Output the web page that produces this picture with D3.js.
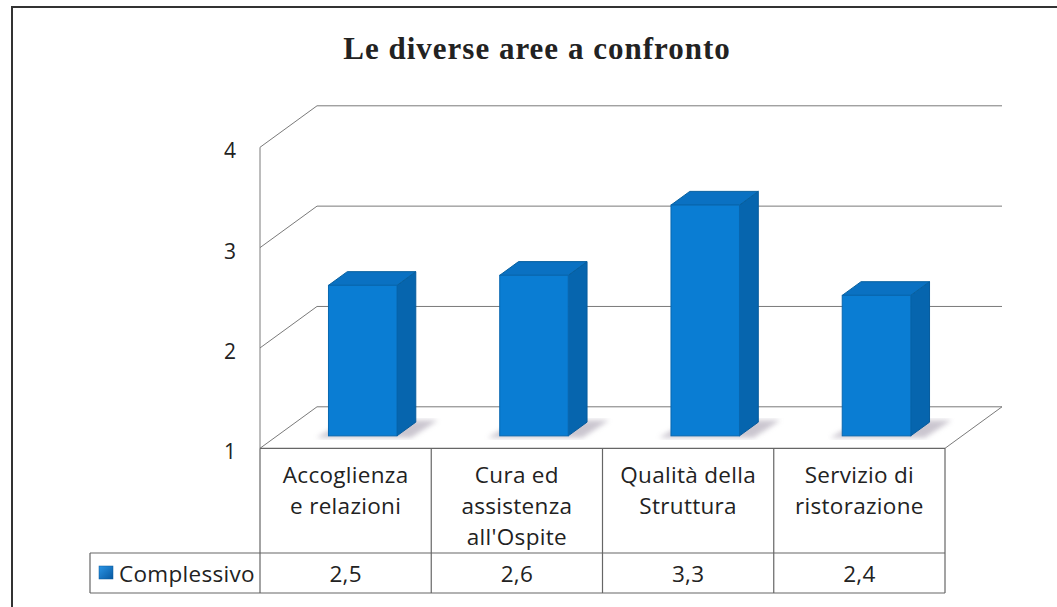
<!DOCTYPE html>
<html>
<head>
<meta charset="utf-8">
<script src="https://cdn.jsdelivr.net/npm/d3@7"></script>
<style>
  body { margin: 0; background: #fff; }
</style>
</head>
<body>
<script>
const categories = [
  ["Accoglienza", "e relazioni"],
  ["Cura ed", "assistenza", "all'Ospite"],
  ["Qualità della", "Struttura"],
  ["Servizio di", "ristorazione"]
];
const values = [2.5, 2.6, 3.3, 2.4];
const valueLabels = ["2,5", "2,6", "3,3", "2,4"];
const yTicks = [1, 2, 3, 4];
const seriesName = "Complessivo";
const title = "Le diverse aree a confronto";

const width = 1057, height = 607;
const font = "'Open Sans', sans-serif";

// 3D depth offset of the back wall
const depthX = 57, depthY = 41.5;
const f0 = 0.3, f1 = 0.63; // bar front/back depth fraction

const svg = d3.select("body").append("svg")
    .attr("width", width)
    .attr("height", height)
    .attr("font-family", font);

const defs = svg.append("defs");
defs.append("filter").attr("id", "blur")
  .append("feGaussianBlur").attr("stdDeviation", 2.5);
const lg = defs.append("linearGradient").attr("id", "leg")
    .attr("x1", 0).attr("y1", 0).attr("x2", 1).attr("y2", 1);
lg.append("stop").attr("offset", 0).attr("stop-color", "#2a95e6");
lg.append("stop").attr("offset", 1).attr("stop-color", "#0758a0");

// outer frame
svg.append("path")
    .attr("d", `M12,${height}V7H${width}`)
    .attr("fill", "none")
    .attr("stroke", "#333")
    .attr("stroke-width", 2);

svg.append("text")
    .attr("x", 537)
    .attr("y", 59)
    .attr("text-anchor", "middle")
    .attr("font-family", "'Liberation Serif', serif")
    .attr("font-weight", "bold")
    .attr("font-size", 31)
    .attr("letter-spacing", 1)
    .attr("fill", "#222")
    .text(title);

const x = d3.scaleBand(d3.range(categories.length), [260, 945]);
const y = d3.scaleLinear([1, 4], [448.3, 147.3]);

const off = f => [f * depthX, -f * depthY];

const grid = svg.append("g")
    .attr("stroke", "#7a7a7a")
    .attr("stroke-width", 1)
    .attr("fill", "none");

// back wall lines and side wall diagonals
yTicks.forEach(t => {
  grid.append("path")
      .attr("d", `M${x.range()[0]},${y(t)}L${x.range()[0] + depthX},${y(t) - depthY}H${x.range()[1] + depthX}`);
});
// left axis front edge
grid.append("line")
    .attr("x1", 260).attr("x2", 260)
    .attr("y1", y(4)).attr("y2", y(1));
// floor right edge
grid.append("line")
    .attr("x1", x.range()[1]).attr("y1", y(1))
    .attr("x2", x.range()[1] + depthX).attr("y2", y(1) - depthY);

// y labels
svg.append("g")
    .attr("font-size", 21)
    .attr("fill", "#222")
    .attr("text-anchor", "middle")
  .selectAll("text")
  .data(yTicks)
  .join("text")
    .attr("x", 230)
    .attr("y", d => y(d) + 11)
    .text(d => d);

// bars
const bw = x.bandwidth() * 0.4;
const bars = svg.append("g")
  .selectAll("g")
  .data(values)
  .join("g");

bars.each(function(v, i) {
  const g = d3.select(this);
  const [ox, oy] = off(f0);
  const [bx, by] = off(f1 - f0);
  const x0 = x(i) + (x.bandwidth() - bw) / 2 + ox;
  const x1 = x0 + bw;
  const yb = y(1) + oy;
  const yt = y(v) + oy;
  // shadow on floor
  g.append("path")
      .attr("d", `M${x0 - 12},${yb + 2}L${x1 + 14},${yb + 2}L${x1 + bx + 22},${yb + by - 2}L${x0 + bx},${yb + by - 2}Z`)
      .attr("fill", "#b9b3c0")
      .attr("opacity", 0.75)
      .attr("filter", "url(#blur)");
  g.append("path")
      .attr("d", `M${x1},${yt}L${x1 + bx},${yt + by}L${x1 + bx},${yb + by}L${x1},${yb}Z`)
      .attr("fill", "#0665ae")
      .attr("stroke", "#055a9c")
      .attr("stroke-linejoin", "round");
  g.append("path")
      .attr("d", `M${x0},${yt}L${x1},${yt}L${x1 + bx},${yt + by}L${x0 + bx},${yt + by}Z`)
      .attr("fill", "#0a71c2")
      .attr("stroke", "#07609f")
      .attr("stroke-linejoin", "round");
  g.append("rect")
      .attr("x", x0).attr("y", yt)
      .attr("width", bw).attr("height", yb - yt)
      .attr("fill", "#0a7dd3")
      .attr("stroke", "#0867b0")
      .attr("stroke-width", 1);
});

// data table
const rowTop = y(1), rowMid = 553, rowBot = 593, legLeft = 90;
const table = svg.append("g")
    .attr("stroke", "#666")
    .attr("stroke-width", 1.2)
    .attr("fill", "none");
table.append("path")
    .attr("d", `M${x.range()[0]},${rowTop}H${x.range()[1]}`);
table.append("path")
    .attr("d", `M${legLeft},${rowMid}H${x.range()[1]}M${legLeft},${rowBot}H${x.range()[1]}M${legLeft},${rowMid}V${rowBot}`);
table.selectAll("line.v")
  .data(d3.range(categories.length + 1))
  .join("line")
    .attr("x1", i => i < categories.length ? x(i) : x.range()[1])
    .attr("x2", i => i < categories.length ? x(i) : x.range()[1])
    .attr("y1", rowTop)
    .attr("y2", rowBot);

const txt = svg.append("g")
    .attr("font-size", 22.5)
    .attr("letter-spacing", 0.3)
    .attr("fill", "#222")
    .attr("text-anchor", "middle");

txt.selectAll("text.cat")
  .data(categories)
  .join("text")
    .attr("class", "cat")
    .attr("x", (d, i) => x(i) + x.bandwidth() / 2)
    .attr("y", 483)
  .selectAll("tspan")
  .data(d => d)
  .join("tspan")
    .attr("x", function() { return this.parentNode.getAttribute("x"); })
    .attr("dy", (d, i) => i === 0 ? 0 : 31)
    .text(d => d);

txt.selectAll("text.val")
  .data(valueLabels)
  .join("text")
    .attr("class", "val")
    .attr("x", (d, i) => x(i) + x.bandwidth() / 2)
    .attr("y", 582)
    .text(d => d);

// legend key
svg.append("rect")
    .attr("x", 99).attr("y", 566)
    .attr("width", 14).attr("height", 13)
    .attr("fill", "url(#leg)")
    .attr("stroke", "#0a5a9a")
    .attr("stroke-width", 0.5);
svg.append("text")
    .attr("x", 119)
    .attr("y", 582)
    .attr("font-size", 22.5)
    .attr("letter-spacing", 0.3)
    .attr("fill", "#222")
    .text(seriesName);
</script>
</body>
</html>
